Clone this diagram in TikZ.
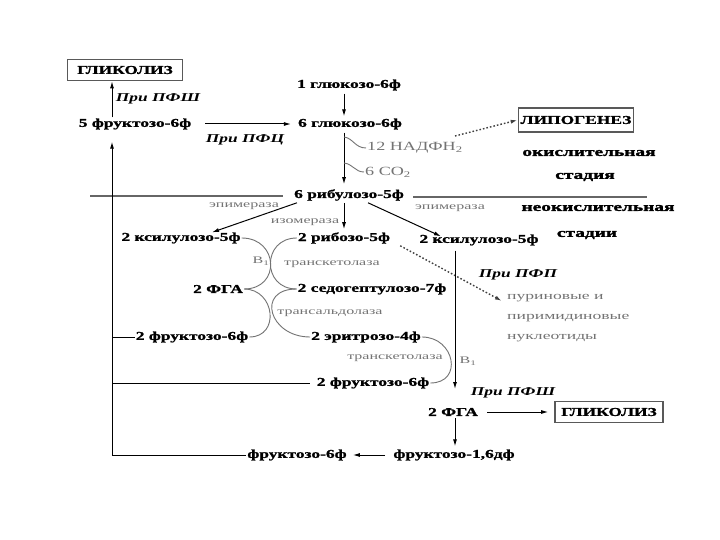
\documentclass[tikz,border=0pt]{standalone}
\usepackage{fontspec}
\setmainfont[FakeStretch=1.45, BoldFeatures={FakeBold=1.2}]{Liberation Serif}
\newfontfamily\grayf[FakeStretch=1.6]{Liberation Serif}
\newfontfamily\stagef[FakeStretch=1.55, BoldFeatures={FakeBold=2}]{Liberation Serif}
\usetikzlibrary{arrows.meta}
\begin{document}
\begin{tikzpicture}[x=1pt,y=-1pt,
  lbl/.style={font=\fontsize{12}{14}\selectfont\bfseries, inner sep=1pt},
  stage/.style={font=\stagef\fontsize{12.5}{14}\selectfont\bfseries, inner sep=1pt},
  enz/.style={font=\grayf\fontsize{10}{12}\selectfont, text=black!55, inner sep=1pt},
  grtxt/.style={font=\fontsize{12.5}{14}\selectfont, text=black!55, inner sep=1pt},
  cond/.style={font=\fontsize{12}{14}\selectfont\bfseries\itshape, inner sep=1pt},
  boxed/.style={lbl, draw=black!65, line width=1.6pt, inner sep=2pt},
  arr/.style={-{Latex[length=7pt,width=4pt]}, line width=1pt},
  plain/.style={line width=1pt},
  dotarr/.style={-{Latex[length=7pt,width=4pt]}, line width=1.4pt, dash pattern=on 1.6pt off 2pt, black!75},
  gcurve/.style={line width=0.9pt, black!55},
  divider/.style={line width=1.4pt, black!60}
]
\useasboundingbox (0,0) rectangle (720,540);
\fill[white] (0,0) rectangle (720,540);

% helper x-positions
\coordinate (lx) at (112,0);
\coordinate (vx) at (344,0);
\coordinate (vx2) at (455,0);

% top-left
\node[boxed, minimum width=115pt, minimum height=21pt] (gl1) at (125,70) {ГЛИКОЛИЗ};
\node[cond] (c1) at (158,99) {При ПФШ};
\node[lbl] (f5) at (135,124) {5 фруктозо-6ф};
\node[cond] (c2) at (245,140) {При ПФЦ};

% oxidative stage
\node[lbl] (g1) at (349,85) {1 глюкозо-6ф};
\node[lbl] (g6) at (350,124) {6 глюкозо-6ф};
\node[grtxt, anchor=west] (nadph) at (366,148) {12 НАДФН\textsubscript{2}};
\node[grtxt, anchor=west] (co2) at (364,172) {6 CO\textsubscript{2}};
\node[lbl] (r6) at (349,195) {6 рибулозо-5ф};
\node[boxed, minimum width=115pt, minimum height=24pt] (lip) at (576,120) {ЛИПОГЕНЕЗ};
\node[stage] (s1) at (589,153) {окислительная};
\node[stage] (s2) at (585,177) {стадия};
\node[stage] (s3) at (598,208) {неокислительная};
\node[stage] (s4) at (587,235) {стадии};

% non-oxidative
\node[enz] (e1) at (244,206) {эпимераза};
\node[enz] (e2) at (305,222) {изомераза};
\node[enz] (e3) at (450,208) {эпимераза};
\node[lbl] (x5l) at (181,238) {2 ксилулозо-5ф};
\node[lbl] (r5) at (344,238) {2 рибозо-5ф};
\node[lbl] (x5r) at (479,240) {2 ксилулозо-5ф};
\node[enz] (b1a) at (261,261) {B\textsubscript{1}};
\node[enz] (e4) at (332,264) {транскетолаза};
\node[lbl] (fga1) at (218,289) {2 ФГА};
\node[lbl] (sed) at (372,289) {2 седогептулозо-7ф};
\node[enz] (e5) at (330,313) {трансальдолаза};
\node[lbl] (f6a) at (192,337) {2 фруктозо-6ф};
\node[lbl] (ery) at (366,337) {2 эритрозо-4ф};
\node[enz] (e6) at (395,358) {транскетолаза};
\node[enz] (b1b) at (468,361) {B\textsubscript{1}};
\node[lbl] (f6b) at (373,383) {2 фруктозо-6ф};
\node[cond] (c3) at (518,275) {При ПФП};
\node[enz, font=\grayf\fontsize{11}{20}\selectfont, align=left, anchor=north west] (pur) at (506,293) {пуриновые и\\пиримидиновые\\нуклеотиды};
\node[cond] (c4) at (513,393) {При ПФШ};
\node[lbl] (fga2) at (453,412) {2 ФГА};
\node[boxed, minimum width=108pt, minimum height=21pt] (gl2) at (609,412) {ГЛИКОЛИЗ};
\node[lbl] (fbp) at (454,455) {фруктозо-1,6дф};
\node[lbl] (f6c) at (297,455) {фруктозо-6ф};

% dividers
\coordinate (dl1) at (90,196);
\coordinate (dr1) at (647,197);
\draw[divider] (dl1) -- ([xshift=-10pt]r6.west |- dl1);
\draw[divider] ([xshift=8pt]r6.east |- dr1) -- (dr1);

% arrows top
\draw[arr] (f5.north -| lx) -- (gl1.south -| lx);
\draw[arr, shorten <=13pt, shorten >=6pt] (f5.east) -- (g6.west);
\draw[arr, shorten <=2pt, shorten >=1pt] (g1.south -| vx) -- (g6.north -| vx);
\draw[arr, shorten <=2pt, shorten >=4pt] (g6.south -| vx) -- (r6.north -| vx);
\draw[gcurve] (344,137) .. controls (353,138) and (355,148) .. (nadph.west);
\draw[gcurve] (344,163) .. controls (353,164) and (355,172) .. (co2.west);
\coordinate (ds) at (455,136);
\draw[dotarr] (ds) -- (lip.west);

% from ribulose
\draw[arr] ([xshift=4pt,yshift=-1pt]r6.south west) -- ([xshift=31pt,yshift=-1pt]x5l.north);
\draw[arr, shorten <=1pt, shorten >=2pt] (r6.south -| vx) -- (r5.north -| vx);
\draw[arr] ([xshift=-37pt,yshift=-1pt]r6.south east) -- ([xshift=-38pt,yshift=-3pt]x5r.north);

% transketolase / transaldolase crossings
\draw[gcurve] (x5l.east) .. controls +(37,0) and +(37,0) .. (fga1.east);
\draw[gcurve] (r5.west) .. controls +(-35,0) and +(-35,0) .. (sed.west);
\draw[gcurve] (fga1.east) .. controls +(31,0) and +(31,0) .. (f6a.east);
\draw[gcurve] (sed.west) .. controls +(-41,0) and +(-41,0) .. (ery.west);
\draw[gcurve] (ery.east) .. controls +(33,0) and +(33,0) .. (f6b.east);

% purine dotted
\draw[dotarr] ([xshift=9pt,yshift=-1pt]r5.south east) -- ([xshift=-4pt,yshift=-8pt]pur.north west);

% long vertical
\coordinate (vend) at (455,389);
\draw[arr, shorten <=4pt] (x5r.south -| vx2) -- (vend);
\draw[arr, shorten <=8pt, shorten >=6pt] (fga2.east) -- (gl2.west);
\draw[arr, shorten <=1pt, shorten >=2pt] (fga2.south -| vx2) -- (fbp.north -| vx2);
\draw[arr, shorten <=7pt, shorten >=5pt] (fbp.west) -- (f6c.east);

% return lines
\draw[arr] (f6c.west) -| ([yshift=-11pt]f5.south -| lx);
\draw[plain, shorten <=6pt] (f6b.west) -- (f6b.west -| lx);
\draw[plain] (f6a.west) -- (f6a.west -| lx);
\end{tikzpicture}
\end{document}
